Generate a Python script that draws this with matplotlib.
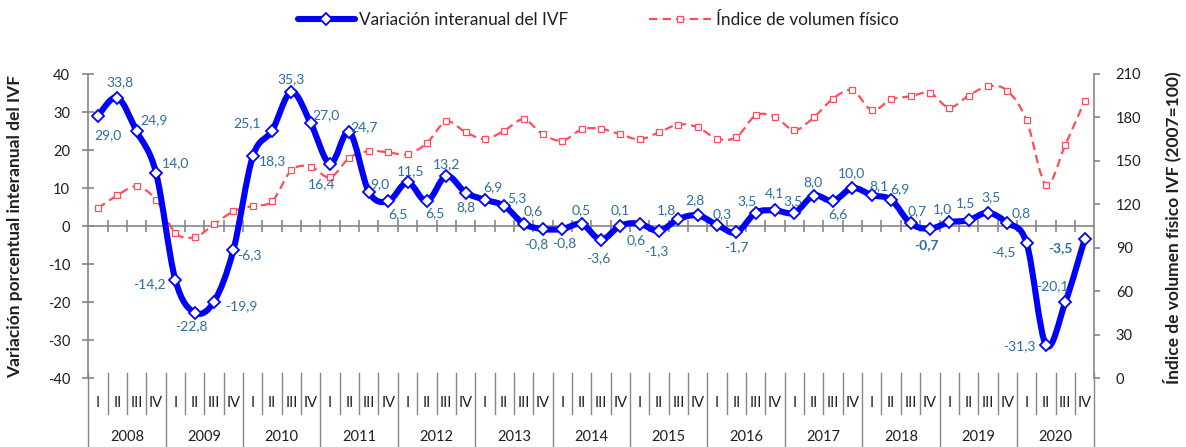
import numpy as np
import matplotlib
matplotlib.use('Agg')
import matplotlib.pyplot as plt
from matplotlib.path import Path
from matplotlib.patches import PathPatch
from matplotlib.lines import Line2D

plt.rcParams['font.family'] = ['Lato', 'DejaVu Sans']

years = [str(y) for y in range(2008, 2021)]
quarters = ['I', 'II', 'III', 'IV']

ivf_var = [29.0, 33.8, 24.9, 14.0,
           -14.2, -22.8, -19.9, -6.3,
           18.3, 25.1, 35.3, 27.0,
           16.4, 24.7, 9.0, 6.5,
           11.5, 6.5, 13.2, 8.8,
           6.9, 5.3, 0.6, -0.8,
           -0.8, 0.5, -3.6, 0.1,
           0.6, -1.3, 1.8, 2.8,
           0.3, -1.7, 3.5, 4.1,
           3.5, 8.0, 6.6, 10.0,
           8.1, 6.9, 0.7, -0.7,
           1.0, 1.5, 3.5, 0.8,
           -4.5, -31.3, -20.1, -3.5]

ivf_index = [117.3, 126.2, 132.4, 123.1,
             100.3, 97.3, 106.1, 115.2,
             118.9, 122.1, 143.5, 146.0,
             138.6, 152.2, 156.8, 155.9,
             154.5, 162.3, 177.2, 169.8,
             165.0, 170.8, 178.6, 168.3,
             163.9, 171.7, 172.2, 168.3,
             164.9, 169.7, 175.1, 173.2,
             165.3, 166.4, 181.4, 180.4,
             171.2, 180.0, 193.0, 198.8,
             185.0, 192.4, 194.6, 196.9,
             186.8, 195.1, 201.5, 198.5,
             178.0, 133.6, 160.9, 191.5]

bold_idx = [43, 51]

# label offsets in pixels (dx, dy), layout only
label_offsets = [(10, -19), (3, 15), (17, 11), (20, 10),
                 (-26, -4), (-3, -14), (27, -5), (16, -5),
                 (20, -5), (-25, 7), (0, 13), (15, 8),
                 (-9, -20), (15, 5), (11, 8), (10, -13),
                 (3, 11), (8, -12), (0, 12), (0, -15),
                 (8, 13), (13, 8), (10, 13), (-7, -15),
                 (2, -14), (0, 14), (-3, -18), (0, 15),
                 (-3, -16), (-3, -20), (-12, 9), (-3, 15),
                 (5, 11), (0, -15), (-9, 12), (-1, 17),
                 (-1, 12), (-1, 13), (5, -13), (-1, 15),
                 (7, 9), (9, 11), (7, 12), (-3, -16),
                 (-7, 13), (-3, 17), (3, 16), (14, 10),
                 (-23, -9), (-27, -1), (-13, 16), (-24, -9)]

BLUE = '#0000FF'
RED = '#FF4D5C'
LABEL = '#2E6E9E'
GRAY = '#868686'
TXT = '#1F1F1F'


def smooth_path(x, y):
    pts = np.column_stack([x, y]).astype(float)
    n = len(pts)
    verts = [pts[0]]
    codes = [Path.MOVETO]
    for i in range(n - 1):
        p0 = pts[max(i - 1, 0)]
        p1 = pts[i]
        p2 = pts[i + 1]
        p3 = pts[min(i + 2, n - 1)]
        verts += [p1 + (p2 - p0) / 6.0, p2 - (p3 - p1) / 6.0, p2]
        codes += [Path.CURVE4] * 3
    return Path(np.array(verts), codes)


fig = plt.figure(figsize=(11.86, 4.47), dpi=100)
ax = fig.add_axes([88.3 / 1186, 69 / 447, 1006 / 1186, 304 / 447])
ax2 = ax.twinx()

n = len(ivf_var)
x = np.arange(n)

ax.set_xlim(-0.5, n - 0.5)
ax.set_ylim(-40, 40)
ax2.set_ylim(0, 210)
ax.set_yticks(np.arange(-40, 41, 10))
ax2.set_yticks(np.arange(0, 211, 30))
ax.set_xticks([])

for s in ['top', 'bottom', 'right']:
    ax.spines[s].set_visible(False)
for s in ['top', 'bottom', 'left']:
    ax2.spines[s].set_visible(False)
ax.spines['left'].set_color(GRAY)
ax.spines['left'].set_linewidth(1.2)
ax2.spines['right'].set_color(GRAY)
ax2.spines['right'].set_linewidth(1.2)

ax.tick_params(axis='y', direction='inout', length=8, width=1.2, color=GRAY,
               labelsize=10.5, labelcolor=TXT, pad=9)
ax2.tick_params(axis='y', direction='out', length=4.5, width=1.2, color=GRAY,
                labelsize=10.5, labelcolor=TXT, pad=11)
ax.set_yticklabels([str(int(v)) for v in np.arange(-40, 41, 10)])
ax2.set_yticklabels([str(int(v)) for v in np.arange(0, 211, 30)])

# zero line with category tick marks
ax.axhline(0, color=GRAY, lw=1.2, zorder=1)
ax.vlines(np.arange(n - 1) + 0.5, -1.6, 1.6, color=GRAY, lw=1.2, zorder=1)

# red series (secondary axis)
red_path = smooth_path(x, ivf_index)
rp = PathPatch(red_path, facecolor='none', edgecolor=RED, lw=1.6,
               linestyle=(0, (3.8, 2.3)), transform=ax2.transData, zorder=3)
ax.add_patch(rp)
ax.plot(x, ivf_index, linestyle='none', marker='s', ms=4, mfc='white',
        mec=RED, mew=0.9, transform=ax2.transData, zorder=4)

# blue series
blue_path = smooth_path(x, ivf_var)
bp = PathPatch(blue_path, facecolor='none', edgecolor=BLUE, lw=4.4,
               capstyle='round', joinstyle='round', zorder=5)
ax.add_patch(bp)
ax.plot(x, ivf_var, linestyle='none', marker='D', ms=6.2, mfc='white',
        mec=BLUE, mew=1.3, zorder=6)

# data labels
for i, v in enumerate(ivf_var):
    dx, dy = label_offsets[i]
    txt = f"{v:.1f}".replace('.', ',')
    ax.annotate(txt, (x[i], v), xytext=(dx, dy), textcoords='offset pixels',
                ha='center', va='center', fontsize=10, color=LABEL,
                fontweight='bold' if i in bold_idx else 'normal', zorder=7)

# multi-level category axis
tr = ax.get_xaxis_transform()
y_top = 0.017
y_q = -0.118
y_bot = -0.227
for b in range(n + 1):
    xb = b - 0.5
    if b % 4 == 0:
        ax.plot([xb, xb], [y_top, y_bot], color=GRAY, lw=1.0, transform=tr,
                clip_on=False)
    else:
        ax.plot([xb, xb], [y_top, y_q], color=GRAY, lw=1.0, transform=tr,
                clip_on=False)
for i in range(n):
    ax.text(x[i], -0.082, quarters[i % 4], transform=tr, ha='center',
            va='center', fontsize=10.5, color=TXT)
for k, yr in enumerate(years):
    ax.text(4 * k + 1.5, -0.194, yr, transform=tr, ha='center', va='center',
            fontsize=10.5, color=TXT)

# axis titles
fig.text(15 / 1186, 0.494, 'Variación porcentual interanual del IVF',
         rotation=90, ha='center', va='center', fontsize=12.5,
         fontweight='bold', color=TXT)
fig.text(1172 / 1186, 0.49, 'Índice de volumen físico IVF (2007=100)',
         rotation=90, ha='center', va='center', fontsize=12.5,
         fontweight='bold', color=TXT)

# legend
h1 = Line2D([], [], color=BLUE, lw=4.4, marker='D', ms=6.2, mfc='white',
            mec=BLUE, mew=1.3, solid_capstyle='round')
h2 = Line2D([], [], color=RED, lw=1.6, linestyle=(0, (3.8, 2.3)), marker='s',
            ms=4, mfc='white', mec=RED, mew=0.9)
leg1 = fig.legend(handles=[h1], labels=['Variación interanual del IVF'],
                  loc='center left', bbox_to_anchor=(298 / 1186, 1 - 20 / 447),
                  frameon=False, fontsize=12.4, handlelength=3.3,
                  handletextpad=0.25, borderpad=0, borderaxespad=0)
leg2 = fig.legend(handles=[h2], labels=['Índice de volumen físico'],
                  loc='center left', bbox_to_anchor=(649 / 1186, 1 - 20 / 447),
                  frameon=False, fontsize=12.4, handlelength=3.6,
                  handletextpad=0.3, borderpad=0, borderaxespad=0)
for t in leg1.get_texts() + leg2.get_texts():
    t.set_color(TXT)

fig.savefig('out.png', dpi=100)
